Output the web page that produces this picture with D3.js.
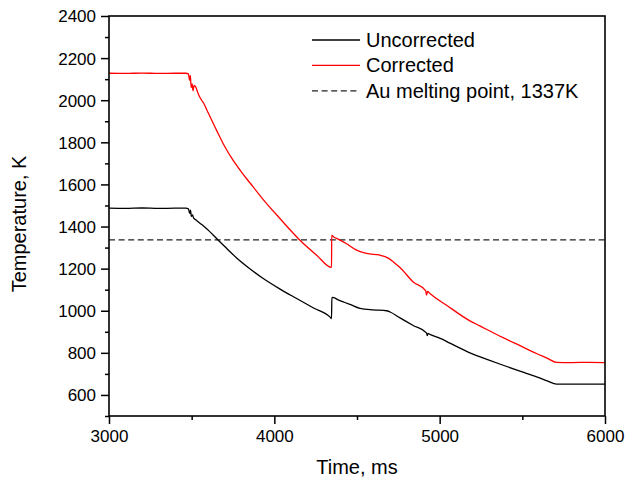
<!DOCTYPE html>
<html>
<head>
<meta charset="utf-8">
<script src="https://cdn.jsdelivr.net/npm/d3@7"></script>
<style>
  body { margin: 0; background: #fff; }
  svg { display: block; font-family: Arial, "Liberation Sans", sans-serif; }
</style>
</head>
<body>
<div id="chart"></div>
<script>
// readings: [time ms, temperature K]
const uncorrected = [
    [3000, 1487], [3100, 1486], [3200, 1488], [3300, 1486], [3400, 1487], [3465, 1487],
    [3480, 1484], [3488, 1462], [3493, 1478], [3498, 1448], [3505, 1455], [3512, 1440],
    [3525, 1432], [3550, 1416], [3570, 1404], [3600, 1383], [3661, 1335], [3700, 1305],
    [3772, 1251], [3850, 1201], [3933, 1153], [4030, 1105], [4135, 1058], [4240, 1012],
    [4336, 971], [4346, 963], [4348, 1063], [4360, 1062], [4390, 1050], [4417, 1042],
    [4457, 1030], [4518, 1011], [4600, 1004], [4679, 1000], [4700, 994], [4760, 966],
    [4840, 930], [4920, 895], [4925, 882], [4930, 892], [4941, 888], [5011, 866],
    [5062, 846], [5183, 800], [5290, 768], [5384, 741], [5490, 712], [5586, 686],
    [5650, 667], [5707, 651], [5800, 651], [5900, 651], [6000, 651]
];

const corrected = [
    [3000, 2128], [3100, 2127], [3200, 2129], [3300, 2127], [3400, 2128], [3465, 2128],
    [3480, 2125], [3488, 2095], [3492, 2118], [3497, 2060], [3503, 2078], [3508, 2045],
    [3515, 2070], [3525, 2062], [3540, 2030], [3560, 2000], [3575, 1982], [3600, 1940],
    [3650, 1858], [3700, 1780], [3750, 1715], [3800, 1660], [3852, 1608], [3933, 1528],
    [4034, 1438], [4155, 1335], [4256, 1264], [4346, 1206],
    [4347, 1358], [4360, 1350], [4386, 1340], [4437, 1318], [4497, 1288], [4558, 1272],
    [4639, 1264], [4689, 1250], [4720, 1232], [4760, 1205], [4840, 1137], [4915, 1095],
    [4921, 1074], [4927, 1092], [4941, 1082], [5042, 1026], [5183, 952], [5243, 928],
    [5384, 872], [5486, 834], [5586, 797], [5650, 775], [5707, 755], [5800, 754],
    [5900, 755], [6000, 754]
];

const meltingPoint = 1337;

const xTicks = [3000, 4000, 5000, 6000];
const xMinorTicks = [3500, 4500, 5500];
const yTicks = [600, 800, 1000, 1200, 1400, 1600, 1800, 2000, 2200, 2400];
const yMinorTicks = [500, 700, 900, 1100, 1300, 1500, 1700, 1900, 2100, 2300];

const legendItems = [
    { label: "Uncorrected", color: "#000000", dash: null },
    { label: "Corrected", color: "#ff0000", dash: null },
    { label: "Au melting point, 1337K", color: "#222222", dash: "6,3.6" }
];

const width = 625;
const height = 481;
const margin = { top: 16, right: 20, bottom: 65, left: 109 };

const svg = d3.select("#chart")
    .append("svg")
    .attr("width", width)
    .attr("height", height);

const x = d3.scaleLinear()
    .domain([3000, 6000])
    .range([margin.left, width - margin.right]);

const y = d3.scaleLinear()
    .domain([500, 2400])
    .range([height - margin.bottom, margin.top]);

const plotBottom = height - margin.bottom;

// dashed melting point line
svg.append("line")
    .attr("x1", x(3000))
    .attr("x2", x(6000))
    .attr("y1", y(meltingPoint))
    .attr("y2", y(meltingPoint))
    .style("stroke", "#222")
    .style("stroke-width", 1.3)
    .style("stroke-dasharray", "6,3.6");

const line = d3.line()
    .x(d => x(d[0]))
    .y(d => y(d[1]))
    .curve(d3.curveMonotoneX);

svg.append("path")
    .datum(uncorrected)
    .attr("d", line)
    .style("fill", "none")
    .style("stroke", "#000")
    .style("stroke-width", 1.3);

svg.append("path")
    .datum(corrected)
    .attr("d", line)
    .style("fill", "none")
    .style("stroke", "#ff0000")
    .style("stroke-width", 1.3);

// axes
const fmt = d3.format("d");

svg.append("g")
    .attr("transform", `translate(0,${plotBottom})`)
    .call(d3.axisBottom(x).tickValues(xTicks).tickFormat(fmt).tickSize(8).tickSizeOuter(0).tickPadding(6));

svg.append("g")
    .attr("transform", `translate(0,${plotBottom})`)
    .call(d3.axisBottom(x).tickValues(xMinorTicks).tickSize(4).tickSizeOuter(0).tickFormat(""));

const yAxis = svg.append("g")
    .attr("transform", `translate(${margin.left},0)`)
    .call(d3.axisLeft(y).tickValues(yTicks).tickFormat(fmt).tickSize(8).tickSizeOuter(0).tickPadding(5));

svg.append("g")
    .attr("transform", `translate(${margin.left},0)`)
    .call(d3.axisLeft(y).tickValues(yMinorTicks).tickSize(4).tickSizeOuter(0).tickFormat(""));

svg.selectAll(".domain").remove();
svg.selectAll(".tick line").style("stroke", "#000").style("stroke-width", 1.5);
svg.selectAll(".tick text")
    .style("font-family", "Arial, 'Liberation Sans', sans-serif")
    .style("font-size", "17px")
    .style("fill", "#000");
yAxis.selectAll(".tick text").attr("dy", "0.35em");

// frame
svg.append("rect")
    .attr("x", x(3000))
    .attr("y", y(2400))
    .attr("width", x(6000) - x(3000))
    .attr("height", y(500) - y(2400))
    .style("fill", "none")
    .style("stroke", "#000")
    .style("stroke-width", 1.6);

// axis titles
svg.append("text")
    .attr("x", (x(3000) + x(6000)) / 2)
    .attr("y", 474)
    .attr("text-anchor", "middle")
    .style("font-size", "20px")
    .text("Time, ms");

svg.append("text")
    .attr("transform", "translate(26,224) rotate(-90)")
    .attr("text-anchor", "middle")
    .style("font-size", "20px")
    .text("Temperature, K");

// legend
const legend = svg.append("g");
legendItems.forEach((item, i) => {
    const ly = 40 + i * 25.4;
    legend.append("line")
        .attr("x1", 312)
        .attr("x2", 360)
        .attr("y1", ly)
        .attr("y2", ly)
        .style("stroke", item.color)
        .style("stroke-width", 1.3)
        .style("stroke-dasharray", item.dash);
    legend.append("text")
        .attr("x", 366)
        .attr("y", ly + 7)
        .style("font-size", "20px")
        .text(item.label);
});
</script>
</body>
</html>
